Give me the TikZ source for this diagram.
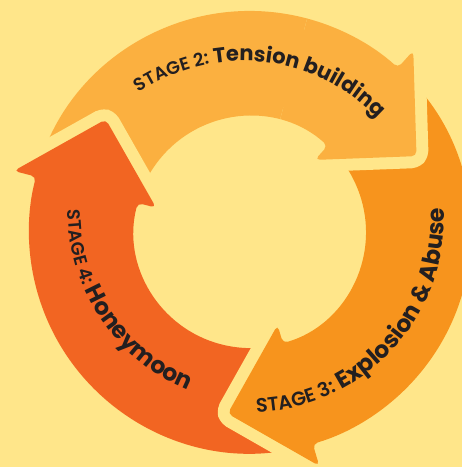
\documentclass[tikz,border=0pt]{standalone}
\usepackage{fontspec}
\setmainfont{Poppins}
\newfontfamily\stagefont{Poppins SemiBold}
\usetikzlibrary{decorations.text}

\definecolor{bgyellow}{HTML}{FFE68A}
\definecolor{stagetwo}{HTML}{FBB040}
\definecolor{stagethree}{HTML}{F7941D}
\definecolor{stagefour}{HTML}{F26522}
\definecolor{ink}{HTML}{231F20}

\newcommand\stagesmall{\stagefont\fontsize{18}{20}\selectfont}
\newcommand\stagesmaller{\stagefont\fontsize{19.5}{22}\selectfont}
\newcommand\stagebig{\normalfont\fontsize{21}{24}\selectfont\bfseries}
\newcommand\stagebigger{\normalfont\fontsize{23.5}{26}\selectfont\bfseries}

\def\ringout{221}
\def\ringin{116}

\tikzset{
  arrowshape/.style={preaction={draw=bgyellow, line width=24pt, line join=round},
    rounded corners=5pt},
  curvedlabel/.style={decorate, decoration={text along path, text align=center,
    text color=ink, text={#1}}},
}

% #1 tail angle, #2 angle of the head's base, #3 colour
\newcommand\ringarrow[3]{%
  \path[arrowshape, fill=#3] (#1:\ringout) arc[start angle=#1, end angle=#2, radius=\ringout]
    -- (#2:244) -- ({#2-23.5}:183) -- (#2:97) -- (#2:\ringin)
    arc[start angle=#2, end angle=#1, radius=\ringin] -- cycle;
}

\begin{document}
\begin{tikzpicture}[x=1pt, y=1pt]
    \fill[bgyellow] (0,0) rectangle (462,467);
    \useasboundingbox (0,0) rectangle (462,467);
    \clip (0,0) rectangle (462,467);

    \begin{scope}[shift={(250,235)}]
        \coordinate (C) at (0,0);

        \ringarrow{165.5}{48}{stagetwo}
        \ringarrow{286.5}{165.5}{stagefour}
        \ringarrow{48}{-73.5}{stagethree}

        % head of stage 2 goes back over the tail of stage 3
        \begin{scope}
            \clip (C) -- (75:400) -- (25:400) -- (-20:400) -- cycle;
            \ringarrow{165.5}{48}{stagetwo}
        \end{scope}

        % the labels run on slightly flatter circles than the ring
        \path[shift={(-7,-15)}, curvedlabel={|\stagesmall|STAGE 2: |\stagebig|Tension building}]
            (148.9:186) arc[start angle=148.9, end angle=18.9, radius=186];
        \path[shift={(1,13)}, curvedlabel={|\stagesmaller|STAGE 3: |\stagebigger|Explosion {\&} Abuse}]
            (-112.5:193) arc[start angle=-112.5, end angle=27.5, radius=193];
        \path[shift={(12,21)}, curvedlabel={|\stagesmall|STAGE 4: |\stagebigger|Honeymoon}]
            (153.6:194) arc[start angle=153.6, end angle=273.6, radius=194];
    \end{scope}
\end{tikzpicture}
\end{document}
